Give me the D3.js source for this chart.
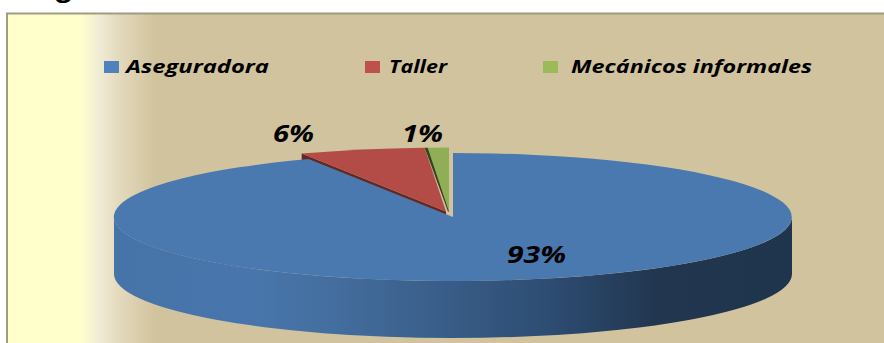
<!DOCTYPE html>
<html>
<head>
<meta charset="utf-8">
<script src="https://cdn.jsdelivr.net/npm/d3@7/dist/d3.min.js"></script>
<style>
  html, body { margin: 0; padding: 0; background: #fff; overflow: hidden; }
  text { font-family: "Open Sans", sans-serif; font-weight: 700; font-style: italic; fill: #000; }
</style>
</head>
<body>
<svg id="chart" width="884" height="343"></svg>
<script>
// Repair-shop preference shares
const categories = ["Aseguradora", "Taller", "Mecánicos informales"];
const shares = [93, 6, 1];
const shareLabels = ["93%", "6%", "1%"];
const topColors = ["#4a79b0", "#b34b47", "#8fae55"];
const legendColors = ["#4f81bd", "#c0504d", "#9bbb59"];
const edgeColors = [null, "#642724", "#33431f"];
const legendX = [104, 365, 543];
const legendTextX = [126, 389, 571];
const legendTextW = [143, 58, 241];
const labelX = [507, 273, 402];
const labelY = [263, 142, 142];
const labelW = [59, 41, 41];
const pull = [[0, 0], [-7, -5.5], [-4, -5.5]];

const svg = d3.select("#chart");
const defs = svg.append("defs");

// Panel background: pale yellow fading to tan
const panelGrad = defs.append("linearGradient").attr("id", "panel")
  .attr("gradientUnits", "userSpaceOnUse").attr("x1", 0).attr("x2", 884).attr("y1", 0).attr("y2", 0);
[[0, "#ffffcc"], [80, "#ffffcc"], [100, "#f0ebd5"], [120, "#e3d9bb"], [155, "#d1c39e"], [884, "#d1c39e"]].forEach(([x, c]) =>
  panelGrad.append("stop").attr("offset", x / 884).attr("stop-color", c));

// Shading along the pie's rim, dark towards the right
const rimGrad = defs.append("linearGradient").attr("id", "rim");
[[0, "#4673a8"], [0.2, "#4876ac"], [0.32, "#446e9f"], [0.47, "#3a5f8a"], [0.63, "#2e4e74"], [0.8, "#223650"], [1, "#1f344d"]]
  .forEach(([o, c]) => rimGrad.append("stop").attr("offset", o).attr("stop-color", c));

svg.append("rect").attr("x", 7).attr("y", 13.5).attr("width", 890).attr("height", 340)
  .attr("fill", "url(#panel)").attr("stroke", "#a09c84").attr("stroke-width", 2);

// Descender of the heading cut off by the top edge
svg.append("text").attr("x", 56).attr("y", -3).attr("font-size", 27).style("font-style", "normal").text("g");

// Legend
categories.forEach((name, i) => {
  svg.append("rect").attr("x", legendX[i]).attr("y", 61).attr("width", 15).attr("height", 12).attr("fill", legendColors[i]);
  svg.append("text").attr("x", legendTextX[i]).attr("y", 73).attr("font-size", 18)
    .attr("textLength", legendTextW[i]).attr("lengthAdjust", "spacingAndGlyphs").text(name);
});

// Pie geometry
const cx = 453, cy = 217, rx = 339, ry = 64, depth = 57;
const slices = d3.pie().sort(null)(shares);
const unitArc = d3.arc().innerRadius(0).outerRadius(1);
const project = (angle, [dx, dy]) => [cx + dx + rx * Math.sin(angle), cy + dy - ry * Math.cos(angle)];

// Cut face of the red slice, seen just below its left edge
{
  const [dx, dy] = pull[1];
  const [ox, oy] = project(slices[1].startAngle, pull[1]);
  const p = d3.path();
  p.moveTo(cx + dx, cy + dy);
  p.lineTo(ox, oy);
  p.lineTo(ox, oy + depth);
  p.lineTo(cx + dx, cy + dy + depth);
  p.closePath();
  svg.append("path").attr("d", p.toString()).attr("fill", edgeColors[1]);
}

// Slice tops, red first so the green edge overlaps it
[1, 2].forEach(i => {
  const [dx, dy] = pull[i];
  svg.append("path").attr("d", unitArc(slices[i]))
    .attr("transform", `translate(${cx + dx},${cy + dy}) scale(${rx},${ry})`)
    .attr("fill", topColors[i]);
});

// Dark sliver along the green slice's left edge
{
  const [dx, dy] = pull[2];
  const [ox, oy] = project(slices[2].startAngle, pull[2]);
  const p = d3.path();
  p.moveTo(cx + dx, cy + dy);
  p.lineTo(ox, oy);
  p.lineTo(ox - 3, oy);
  p.lineTo(cx + dx - 1, cy + dy);
  p.closePath();
  svg.append("path").attr("d", p.toString()).attr("fill", edgeColors[2]);
}

// Main slice: rim then top, in unit-circle coordinates stretched to an ellipse
const pieGroup = svg.append("g").attr("transform", `translate(${cx},${cy}) scale(${rx},${ry})`);
const d = depth / ry;
const rim = d3.path();
rim.moveTo(1, 0);
rim.arc(0, 0, 1, 0, Math.PI);
rim.lineTo(-1, d);
rim.arc(0, d, 1, Math.PI, 0, true);
rim.closePath();
pieGroup.append("path").attr("d", rim.toString()).attr("fill", "url(#rim)");
pieGroup.append("path").attr("d", unitArc(slices[0])).attr("fill", topColors[0]);

// Percentage labels
shareLabels.forEach((t, i) => {
  svg.append("text").attr("x", labelX[i]).attr("y", labelY[i]).attr("font-size", 23)
    .attr("textLength", labelW[i]).attr("lengthAdjust", "spacingAndGlyphs").text(t);
});
</script>
</body>
</html>
